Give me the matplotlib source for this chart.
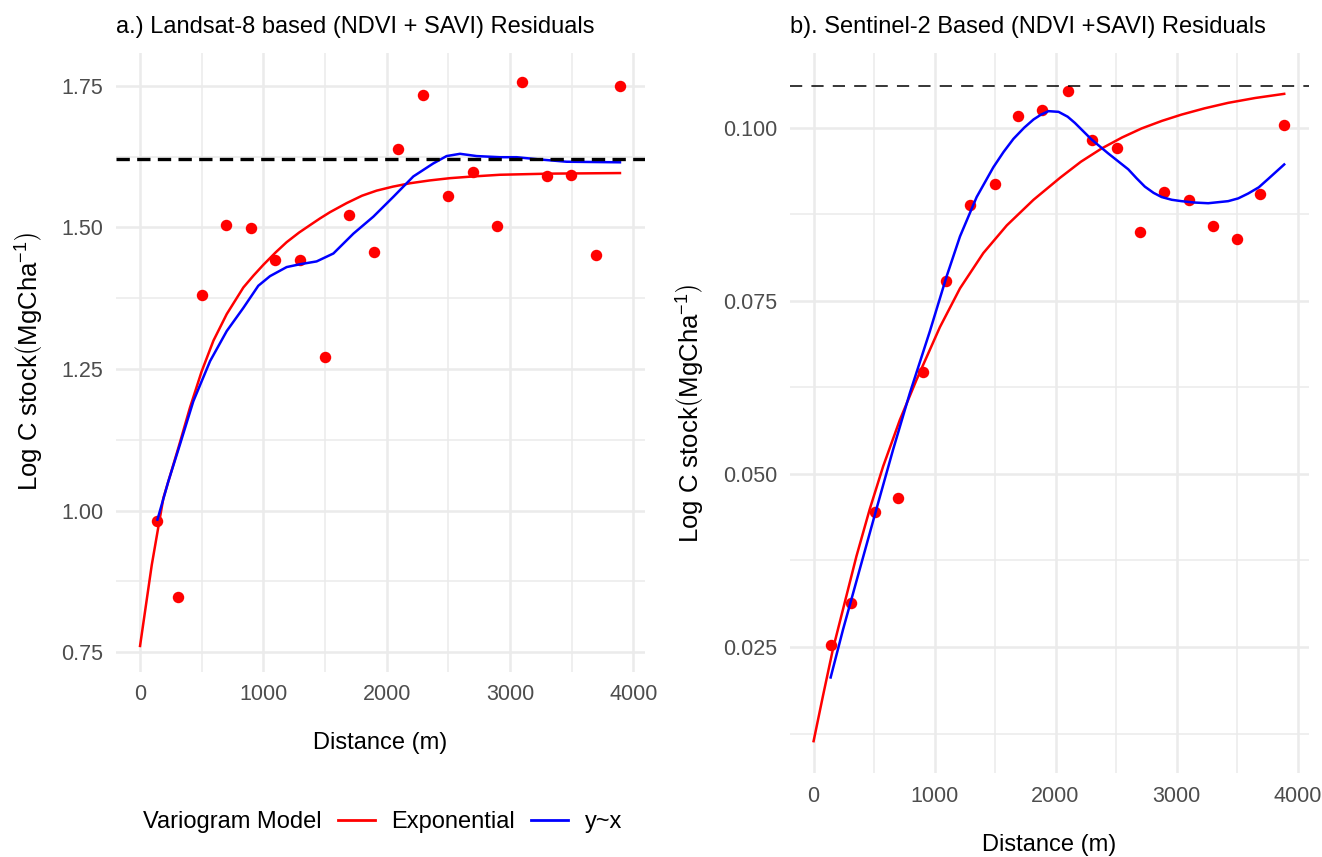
import matplotlib
matplotlib.use("Agg")
import matplotlib.pyplot as plt
from matplotlib.lines import Line2D
from matplotlib.ticker import MultipleLocator

plt.rcParams['font.family'] = ['Liberation Sans', 'DejaVu Sans']
plt.rcParams['mathtext.fontset'] = 'custom'
plt.rcParams['mathtext.rm'] = 'Liberation Sans'
plt.rcParams['mathtext.it'] = 'Liberation Sans:italic'

# ---- a.) Landsat-8 residual variogram ----
dist_l8 = [135, 308, 503, 697, 903, 1097, 1300, 1500, 1695, 1897,
           2095, 2298, 2500, 2697, 2892, 3096, 3297, 3497, 3695, 3890]
gamma_l8 = [0.982, 0.848, 1.380, 1.504, 1.499, 1.443, 1.442, 1.272, 1.522, 1.457,
            1.639, 1.733, 1.555, 1.598, 1.503, 1.757, 1.591, 1.593, 1.451, 1.750]
exp_x_l8 = [0, 95, 189, 311, 405, 500, 595, 703, 838, 920, 1000, 1100, 1189, 1290,
            1378, 1460, 1541, 1676, 1800, 1919, 2050, 2189, 2350, 2514, 2700, 2919,
            3324, 3892]
exp_y_l8 = [0.761, 0.904, 1.022, 1.111, 1.182, 1.246, 1.300, 1.347, 1.394, 1.415,
            1.434, 1.456, 1.474, 1.491, 1.504, 1.516, 1.527, 1.543, 1.556, 1.565,
            1.572, 1.578, 1.583, 1.587, 1.590, 1.593, 1.595, 1.596]
smooth_x_l8 = [141, 230, 324, 432, 568, 703, 838, 959, 1054, 1189, 1297, 1432, 1568,
               1730, 1892, 2054, 2216, 2378, 2486, 2595, 2730, 2919, 3054, 3243, 3459, 3892]
smooth_y_l8 = [0.984, 1.052, 1.117, 1.193, 1.264, 1.317, 1.358, 1.397, 1.414, 1.430,
               1.435, 1.440, 1.454, 1.489, 1.519, 1.554, 1.590, 1.613, 1.626, 1.630,
               1.626, 1.624, 1.624, 1.620, 1.616, 1.615]
sill_l8 = 1.620

# ---- b). Sentinel-2 residual variogram ----
dist_s2 = [141, 307, 508, 696, 906, 1094, 1296, 1497, 1691, 1892,
           2105, 2303, 2504, 2702, 2898, 3102, 3300, 3496, 3691, 3890]
gamma_s2 = [0.0253, 0.0314, 0.0445, 0.0465, 0.0647, 0.0778, 0.0889, 0.0919, 0.1017, 0.1026,
            0.1053, 0.0982, 0.0971, 0.0849, 0.0907, 0.0895, 0.0858, 0.0839, 0.0905, 0.1004]
exp_x_s2 = [0, 77, 160, 257, 354, 464, 575, 713, 851, 1044, 1210, 1403, 1597,
            1818, 2039, 2210, 2380, 2550, 2711, 2880, 3041, 3230, 3427, 3650, 3890]
exp_y_s2 = [0.0114, 0.0179, 0.0247, 0.0314, 0.0381, 0.0449, 0.0511, 0.0578, 0.0636,
            0.0712, 0.0768, 0.0819, 0.0859, 0.0896, 0.0928, 0.0951, 0.0970, 0.0986,
            0.0999, 0.1010, 0.1019, 0.1028, 0.1036, 0.1043, 0.1049]
smooth_x_s2 = [141, 243, 381, 519, 657, 796, 961, 1099, 1210, 1348, 1486, 1570, 1652,
               1740, 1818, 1880, 1942, 2025, 2100, 2160, 2298, 2435, 2601, 2670, 2738,
               2810, 2876, 2960, 3041, 3150, 3262, 3427, 3510, 3592, 3680, 3757, 3890]
smooth_y_s2 = [0.0206, 0.0275, 0.0362, 0.0449, 0.0535, 0.0617, 0.0706, 0.0785, 0.0843,
               0.0900, 0.0943, 0.0965, 0.0984, 0.1000, 0.1012, 0.1019, 0.1024, 0.1023,
               0.1016, 0.1007, 0.0983, 0.0963, 0.0940, 0.0927, 0.0915, 0.0906, 0.0900,
               0.0896, 0.0894, 0.0892, 0.0891, 0.0894, 0.0898, 0.0905, 0.0914, 0.0926,
               0.0947]
sill_s2 = 0.1061

W, H = 1322, 857
fig = plt.figure(figsize=(W / 100, H / 100), dpi=100)


def px(x, y):
    return x / W, 1 - y / H


def style_axes(ax, ymajor):
    for s in ax.spines.values():
        s.set_visible(False)
    ax.xaxis.set_major_locator(MultipleLocator(1000))
    ax.xaxis.set_minor_locator(MultipleLocator(500))
    ax.yaxis.set_major_locator(MultipleLocator(ymajor))
    ax.yaxis.set_minor_locator(MultipleLocator(ymajor / 2))
    ax.grid(which='major', color='#EBEBEB', lw=1.8)
    ax.grid(which='minor', color='#EBEBEB', lw=1.1)
    ax.set_axisbelow(True)
    ax.tick_params(which='both', length=0, labelsize=15.5, labelcolor='#4D4D4D', pad=9)


def panel(ax, d, g, ex, ey, sx, sy, sill, dash_lw, dashes):
    ax.scatter(d, g, s=68, color='red', zorder=2, linewidths=0)
    ax.plot(ex, ey, color='red', lw=1.8, zorder=3)
    ax.plot(sx, sy, color='blue', lw=1.8, zorder=3)
    ax.axhline(sill, color='black', lw=dash_lw, dashes=dashes, zorder=3)


ax1 = fig.add_axes([116 / W, 1 - 672 / H, 529 / W, 619 / H])
panel(ax1, dist_l8, gamma_l8, exp_x_l8, exp_y_l8, smooth_x_l8, smooth_y_l8,
      sill_l8, 2.4, (4, 2.2))
ax1.set_xlim(-195, 4095)
ax1.set_ylim(0.715, 1.808)
style_axes(ax1, 0.25)
ax1.yaxis.set_major_formatter(lambda v, p: f"{v:.2f}")

ax2 = fig.add_axes([790 / W, 1 - 773 / H, 519 / W, 720 / H])
panel(ax2, dist_s2, gamma_s2, exp_x_s2, exp_y_s2, smooth_x_s2, smooth_y_s2,
      sill_s2, 1.1, (8, 6))
ax2.set_xlim(-195, 4095)
ax2.set_ylim(0.0068, 0.1108)
style_axes(ax2, 0.025)
ax2.yaxis.set_major_formatter(lambda v, p: f"{v:.3f}")

ylab = r'Log C stock$\left(\mathrm{MgCha}^{-1}\right)$'
fig.text(*px(116, 27), 'a.) Landsat-8 based (NDVI + SAVI) Residuals',
         ha='left', va='center', fontsize=17)
fig.text(*px(790, 27), 'b). Sentinel-2 Based (NDVI +SAVI) Residuals',
         ha='left', va='center', fontsize=17)
fig.text(*px(30, 362), ylab, rotation=90, ha='center', va='center', fontsize=18.5)
fig.text(*px(691, 414), ylab, rotation=90, ha='center', va='center', fontsize=18.5)
fig.text(*px(380, 743), 'Distance (m)', ha='center', va='center', fontsize=17)
fig.text(*px(1049, 845), 'Distance (m)', ha='center', va='center', fontsize=17)

# legend below panel a
fig.text(*px(143, 822), 'Variogram Model', ha='left', va='center', fontsize=17)
handles = [Line2D([], [], color='red', lw=2), Line2D([], [], color='blue', lw=2)]
fig.legend(handles, ['Exponential', 'y~x'], loc='center left',
           bbox_to_anchor=px(338, 822), ncol=2, frameon=False, fontsize=17,
           borderpad=0, borderaxespad=0, handlelength=1.55, handletextpad=0.7,
           columnspacing=0.7)

fig.savefig('out.png', dpi=100)
